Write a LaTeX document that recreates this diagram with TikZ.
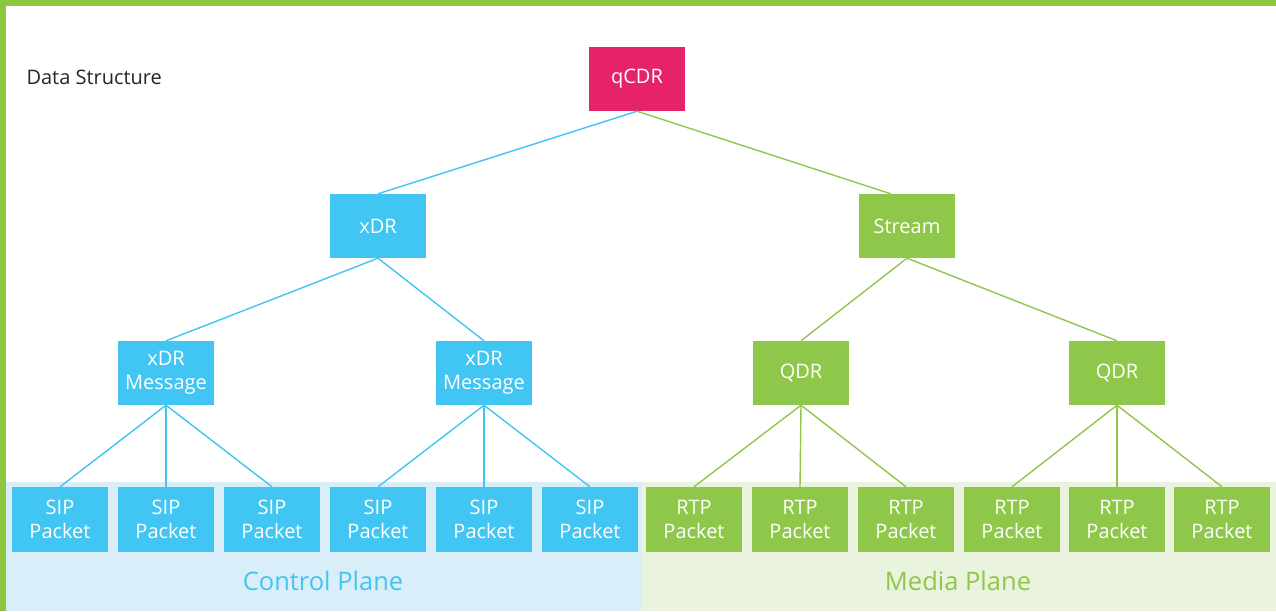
\documentclass[tikz,border=0pt]{standalone}
\usepackage{fontspec}
\setmainfont{Open Sans}
\definecolor{cblue}{HTML}{41C5F2}
\definecolor{cgreen}{HTML}{8FC74A}
\definecolor{cpink}{HTML}{E6226B}
\definecolor{lblue}{HTML}{DAEEF9}
\definecolor{lgreen}{HTML}{E9F3DD}
\definecolor{bgreen}{HTML}{8DC63F}
\begin{document}
\begin{tikzpicture}[x=1pt,y=-1pt,
  box/.style={minimum width=96pt,minimum height=64pt,inner sep=0pt,text=white,align=center,
     font=\fontsize{20}{24}\selectfont},
  bbox/.style={box,fill=cblue},
  gbox/.style={box,fill=cgreen},
  pbox/.style={box,fill=cpink},
  bl/.style={draw=cblue,line width=1.4pt},
  gl/.style={draw=cgreen,line width=1.4pt}]
\useasboundingbox (0,0) rectangle (1276,611);
\fill[white] (0,0) rectangle (1276,611);
\fill[lblue] (6,482) rectangle (642,611);
\fill[lgreen] (642,482) rectangle (1276,611);
\fill[bgreen] (0,0) rectangle (1276,6);
\fill[bgreen] (0,0) rectangle (6,611);
\node[anchor=west,font=\fontsize{20}{24}\selectfont,text=black!85] (title) at (23,77) {Data Structure};
\node[pbox] (q) at (637,79) {qCDR};
\node[bbox] (x) at (378,226) {xDR};
\node[gbox] (s) at (907,226) {Stream};
\node[bbox] (m1) at (166,373) {xDR\\Message};
\node[bbox] (m2) at (484,373) {xDR\\Message};
\node[gbox] (d1) at (801,373) {QDR};
\node[gbox] (d2) at (1117,373) {QDR};
\foreach \i/\cx in {1/60,2/166,3/272,4/378,5/484,6/590}
  \node[bbox,minimum height=65pt] (sp\i) at (\cx,519.5) {SIP\\Packet};
\foreach \i/\cx in {1/694,2/800,3/906,4/1012,5/1117,6/1222}
  \node[gbox,minimum height=65pt] (rp\i) at (\cx,519.5) {RTP\\Packet};
\draw[bl] (q.south) -- (x.north);
\draw[gl] (q.south) -- ([xshift=32pt]s.north west);
\draw[bl] (x.south) -- (m1.north);
\draw[bl] (x.south) -- (m2.north);
\draw[gl] (s.south) -- (d1.north);
\draw[gl] (s.south) -- (d2.north);
\foreach \i in {1,2,3} \draw[bl] (m1.south) -- (sp\i.north);
\foreach \i in {4,5,6} \draw[bl] (m2.south) -- (sp\i.north);
\foreach \i in {1,2,3} \draw[gl] (d1.south) -- (rp\i.north);
\foreach \i in {4,5,6} \draw[gl] (d2.south) -- (rp\i.north);
\node[text=cblue,font=\fontsize{25.5}{30}\selectfont] (cp) at (323,581) {Control Plane};
\node[text=cgreen,font=\fontsize{25.5}{30}\selectfont] (mp) at (958,581) {Media Plane};
\end{tikzpicture}
\end{document}
